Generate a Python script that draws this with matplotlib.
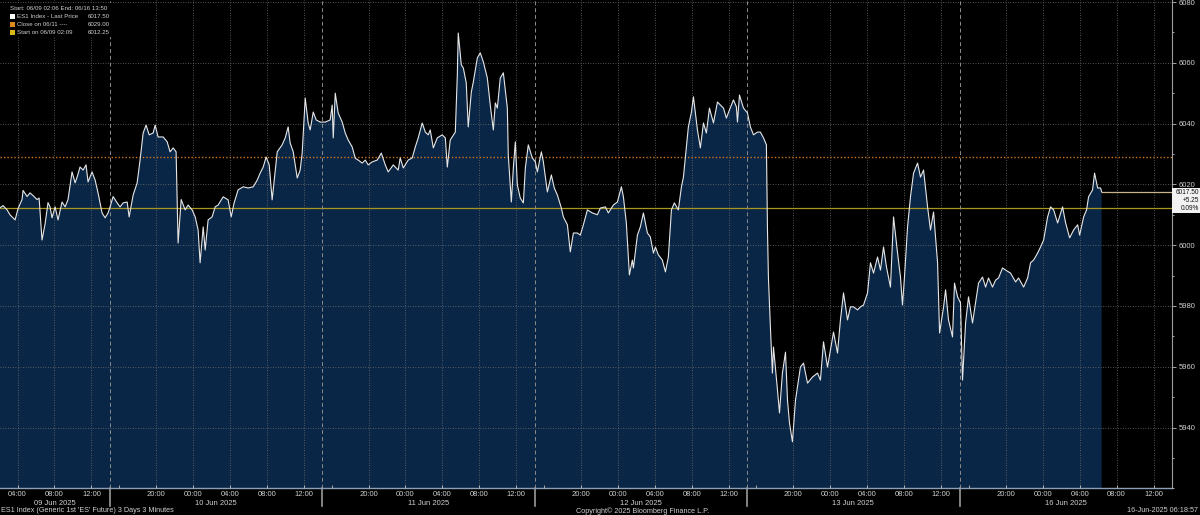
import numpy as np
import matplotlib
matplotlib.use("Agg")
import matplotlib.pyplot as plt
from matplotlib.patches import Rectangle
from matplotlib.ticker import FixedLocator, MultipleLocator

plt.rcParams["font.family"] = ["Liberation Sans Narrow", "Liberation Sans", "DejaVu Sans"]

# trading minutes elapsed since 06/09 02:06 (daily 14:00-15:00 halt and weekend removed)
elapsed_min = [
    # 09 Jun -> 10 Jun
    0, 20, 46, 65, 98, 117, 143, 150, 176, 195, 215, 241, 254, 273, 293, 312, 325, 338, 358, 377,
    403, 423, 442, 468, 488, 501, 520, 540, 559, 572, 598, 618, 637, 663, 683, 702, 715, 735, 761, 780,
    800, 826, 839, 865, 891, 910, 930, 949, 969, 995, 1008, 1027, 1060, 1086, 1105, 1125, 1144, 1157,
    1177, 1203, 1222, 1248,
    # 10 Jun -> 11 Jun
    1268, 1287, 1300, 1320, 1333, 1352, 1378, 1398, 1417, 1450, 1482, 1502, 1521, 1547, 1580, 1612,
    1645, 1671, 1690, 1710, 1729, 1749, 1768, 1801, 1833, 1853, 1872, 1885, 1905, 1931, 1950, 1963,
    1983, 2002, 2015, 2035, 2054, 2080, 2113, 2145, 2158, 2165, 2178, 2197, 2223, 2243, 2262, 2288,
    2308, 2327, 2353, 2373, 2392, 2418, 2451, 2477, 2503, 2522, 2555, 2587,
    # 11 Jun -> 12 Jun
    2600, 2620, 2652, 2678, 2698, 2717, 2743, 2763, 2782, 2795, 2815, 2841, 2873, 2893, 2906, 2925,
    2958, 2971, 2977, 2997, 3010, 3029, 3042, 3062, 3075, 3101, 3120, 3140, 3166, 3185, 3205, 3218,
    3231, 3250, 3270, 3296, 3302, 3322, 3335, 3348, 3361, 3380, 3400, 3413, 3432, 3458, 3478, 3491,
    3517, 3530, 3556, 3582, 3601, 3621, 3647, 3660, 3686, 3705, 3725, 3751, 3770, 3790, 3816, 3848, 3881,
    # 12 Jun -> 13 Jun
    3900, 3933, 3952, 3985, 4011, 4037, 4050, 4069, 4082, 4089, 4108, 4115, 4141, 4160, 4180, 4206,
    4225, 4245, 4258, 4277, 4303, 4323, 4342, 4362, 4381, 4407, 4427, 4440, 4459, 4472, 4492, 4505,
    4531, 4550, 4570, 4589, 4609, 4635, 4661, 4680, 4700, 4719, 4739, 4765, 4784, 4791, 4804, 4830,
    4856, 4875, 4895, 4921, 4940, 4960, 4979, 4986, 4992, 5005, 5018, 5025, 5051, 5064, 5083, 5103,
    5116, 5129, 5148, 5168, 5187,
    # 13 Jun -> 16 Jun
    5200, 5220, 5246, 5278, 5311, 5330, 5350, 5376, 5395, 5415, 5441, 5460, 5480, 5506, 5525, 5545,
    5571, 5590, 5610, 5636, 5655, 5675, 5701, 5720, 5740, 5759, 5785, 5805, 5831, 5850, 5863, 5876,
    5896, 5915, 5935, 5961, 5980, 6000, 6026, 6045, 6065, 6091, 6104, 6130, 6143, 6162, 6188, 6201,
    6221, 6240, 6253, 6273, 6292, 6318, 6338, 6357, 6383, 6403, 6422, 6448, 6468, 6487, 6513, 6533,
    6565, 6598, 6617, 6650, 6676, 6695, 6715, 6741, 6760, 6780, 6806, 6825, 6845, 6871, 6903, 6923,
    6949, 6975, 7001, 7014, 7040, 7059, 7072, 7098, 7111, 7131, 7150, 7157,
]

last_px = [
    # 09 Jun -> 10 Jun
    6012.3, 6013.0, 6011.6, 6010.0, 6008.3, 6012.0, 6015.0, 6018.0, 6016.0, 6017.2, 6016.3, 6015.0,
    6015.5, 6001.7, 6007.0, 6014.0, 6012.6, 6009.0, 6012.6, 6008.3, 6014.2, 6012.6, 6015.0, 6024.1,
    6020.5, 6022.4, 6025.7, 6024.7, 6026.4, 6020.8, 6024.1, 6021.4, 6017.2, 6010.6, 6009.0, 6010.6,
    6012.6, 6016.0, 6013.9, 6012.6, 6013.9, 6014.2, 6009.3, 6016.5, 6020.5, 6028.0, 6036.9, 6039.5,
    6036.3, 6036.9, 6039.5, 6035.6, 6035.6, 6034.0, 6030.7, 6032.0, 6030.7, 6000.7, 6015.0, 6011.6,
    6013.2, 6011.6,
    # 10 Jun -> 11 Jun
    6009.3, 6005.0, 5994.2, 6006.0, 5998.4, 6008.3, 6009.3, 6012.6, 6013.2, 6015.9, 6014.9, 6009.3,
    6013.9, 6018.2, 6019.2, 6018.8, 6019.2, 6021.4, 6023.7, 6025.7, 6029.0, 6026.4, 6014.9, 6030.7,
    6033.0, 6035.3, 6038.9, 6033.6, 6030.7, 6022.1, 6024.7, 6030.3, 6048.4, 6040.2, 6037.9, 6043.8,
    6041.2, 6040.5, 6040.5, 6041.2, 6046.1, 6035.3, 6050.0, 6043.5, 6040.5, 6036.9, 6034.6, 6032.3,
    6028.6, 6028.0, 6027.0, 6028.0, 6026.4, 6027.4, 6028.0, 6030.3, 6026.4, 6024.1, 6026.4, 6024.7,
    # 11 Jun -> 12 Jun
    6028.7, 6025.4, 6028.0, 6028.7, 6032.3, 6035.3, 6040.2, 6037.2, 6036.3, 6037.9, 6032.0, 6035.3,
    6036.3, 6035.3, 6025.7, 6034.6, 6037.2, 6056.0, 6069.8, 6059.3, 6058.3, 6053.4, 6038.9, 6050.4,
    6053.7, 6061.6, 6063.3, 6060.3, 6055.0, 6046.1, 6037.9, 6046.8, 6045.1, 6055.0, 6056.7, 6045.1,
    6029.7, 6014.2, 6025.4, 6034.0, 6019.8, 6015.5, 6013.9, 6025.4, 6033.0, 6028.7, 6027.4, 6024.1,
    6030.7, 6027.4, 6017.5, 6023.1, 6018.8, 6016.5, 6012.2, 6009.3, 6006.7, 5997.8, 6004.0, 6004.0,
    6003.3, 6006.7, 6011.6, 6010.6, 6010.0,
    # 12 Jun -> 13 Jun
    6012.2, 6012.6, 6010.6, 6013.2, 6014.2, 6019.2, 6015.9, 6007.3, 5996.1, 5990.2, 5995.1, 5992.5,
    6003.3, 6006.0, 6010.6, 6004.0, 6002.7, 5997.4, 5999.4, 5996.8, 5995.1, 5991.2, 5996.1, 6011.6,
    6013.9, 6011.6, 6019.2, 6022.4, 6032.3, 6038.9, 6043.8, 6048.8, 6037.9, 6032.0, 6040.2, 6036.9,
    6045.1, 6040.2, 6047.1, 6046.1, 6045.1, 6041.8, 6044.5, 6047.8, 6045.5, 6040.5, 6049.4, 6045.1,
    6043.5, 6038.9, 6036.3, 6037.2, 6037.2, 6035.3, 6033.0, 6005.0, 5989.5, 5973.0, 5957.9, 5966.5,
    5952.3, 5944.8, 5957.9, 5964.8, 5949.0, 5941.5, 5935.3, 5949.0, 5955.6,
    # 13 Jun -> 16 Jun
    5959.9, 5961.2, 5954.6, 5956.6, 5957.9, 5955.6, 5968.2, 5959.9, 5965.5, 5971.4, 5964.5, 5975.4,
    5984.3, 5975.4, 5979.7, 5979.7, 5978.7, 5979.7, 5980.3, 5984.3, 5994.2, 5990.8, 5996.1, 5991.8,
    5999.4, 5992.8, 5986.2, 6009.3, 5997.4, 5989.5, 5980.3, 5989.5, 6006.0, 6015.9, 6023.7, 6027.0,
    6022.4, 6024.7, 6012.6, 6005.0, 6010.9, 5994.2, 5971.1, 5979.7, 5985.3, 5975.4, 5969.8, 5987.5,
    5983.0, 5981.0, 5955.6, 5974.4, 5983.0, 5974.4, 5981.0, 5987.5, 5989.5, 5986.2, 5989.2, 5986.2,
    5988.5, 5989.2, 5992.5, 5991.8, 5990.8, 5987.9, 5989.2, 5986.2, 5989.2, 5994.2, 5995.1, 5997.4,
    5999.4, 6001.7, 6009.3, 6012.6, 6011.6, 6007.3, 6012.6, 6007.3, 6002.4, 6005.0, 6006.7, 6003.3,
    6009.3, 6011.6, 6015.9, 6018.2, 6023.7, 6018.8, 6018.8, 6017.5,
]

session_dates = ["09 Jun 2025", "10 Jun 2025", "11 Jun 2025", "12 Jun 2025", "13 Jun 2025", "16 Jun 2025"]
hour_labels = ["20:00", "00:00", "04:00", "08:00", "12:00"]
hour_offsets = [5, 9, 13, 17, 21]   # hours after the 15:00 session open

session_h = 23          # 15:00 -> 14:00 next day
start_offset_h = 11.1   # 02:06 is 11.1 h into the first session

last_price = 6017.50
close_0611 = 6029.00
start_0609 = 6012.25
net_chg = "+5.25"
pct_chg = "0.09%"

BG = "#000000"
FILL = "#0a2646"
TXT = "#cfcfcf"
W, H = 1200, 515


def fx(px):
    return px / W


def fy(py):
    return 1 - py / H


x = start_offset_h + np.array(elapsed_min) / 60.0
y = np.array(last_px)
n_sess = len(session_dates)
x_end = n_sess * session_h

fig = plt.figure(figsize=(W / 100, H / 100), dpi=100, facecolor=BG)
ax = fig.add_axes([0, fy(488.3), fx(1172), 488.3 / H], facecolor=BG)
ax.set_xlim(start_offset_h, x_end)
ax.set_ylim(5920, 6080.66)

ax.fill_between(x, y, 5900, color=FILL, lw=0, zorder=1)
ax.plot(x, y, color="#e6e6e6", lw=0.8, zorder=4)

# reference levels
ax.axhline(close_0611, color="#d0741e", lw=1.0, ls=(0, (1, 1.5)), zorder=3)
ax.axhline(start_0609, color="#a89620", lw=0.9, zorder=3)
ax.plot([x[-1], x_end], [last_price, last_price], color="#c8b68a", lw=0.9, zorder=4)

# session separators
for k in range(1, n_sess):
    ax.axvline(k * session_h, color="#8c8c8c", lw=0.7, ls=(0, (4, 3)), zorder=3)
    ax.plot([k * session_h] * 2, [0, -0.036], transform=ax.get_xaxis_transform(),
            clip_on=False, color="#9a9a9a", lw=1.2)

# x ticks
major_pos, major_lab = [], []
for k in range(n_sess):
    for off, lab in zip(hour_offsets, hour_labels):
        p = k * session_h + off
        if p > start_offset_h:
            major_pos.append(p)
            major_lab.append(lab)
ax.xaxis.set_major_locator(FixedLocator(major_pos))
ax.set_xticklabels(major_lab)
ax.xaxis.set_minor_locator(FixedLocator([k * session_h + 1 for k in range(1, n_sess)]))
ax.tick_params(axis="x", which="both", direction="in", length=2.5, width=0.6,
               color="#c0c0c0", labelcolor=TXT, labelsize=5.5, pad=2)

for k, d in enumerate(session_dates):
    lo = max(k * session_h, start_offset_h)
    hi = (k + 1) * session_h
    ax.text((lo + hi) / 2, -0.031, d, transform=ax.get_xaxis_transform(),
            ha="center", va="center", fontsize=5.5, color=TXT)

# y ticks on the right
ax.yaxis.tick_right()
ax.yaxis.set_major_locator(FixedLocator(list(range(5940, 6081, 20))))
ax.yaxis.set_minor_locator(MultipleLocator(10))
ax.tick_params(axis="y", which="major", direction="out", length=3, width=0.6,
               color="#bdbdbd", labelcolor=TXT, labelsize=5.5, pad=1.5)
ax.tick_params(axis="y", which="minor", direction="out", length=1.5, width=0.6, color="#bdbdbd")

ax.grid(True, which="major", color="#6e6e6e", ls=(0, (1, 2)), lw=0.6)
ax.set_axisbelow(False)

for s in ("top", "left"):
    ax.spines[s].set_visible(False)
ax.spines["right"].set_color("#9d9d9d")
ax.spines["right"].set_linewidth(0.8)
ax.spines["bottom"].set_color("#8d9fb5")
ax.spines["bottom"].set_linewidth(1.0)

# legend block
fs_leg = 4.4
fig.patches.append(Rectangle((fx(2), fy(37)), fx(112), 34 / H, transform=fig.transFigure,
                             facecolor=BG, edgecolor="none", zorder=5))
fig.text(fx(10), fy(8), "Start: 06/09 02:06 End: 06/16 13:50", fontsize=fs_leg,
         color=TXT, va="center", ha="left", zorder=6)
legend_rows = [
    ("#ffffff", "ES1 Index - Last Price", f"{last_price:.2f}"),
    ("#e08a1e", "Close on 06/11 ----", f"{close_0611:.2f}"),
    ("#d8b818", "Start on 06/09 02:09", f"{start_0609:.2f}"),
]
for i, (c, lab, val) in enumerate(legend_rows):
    yy = 16 + 8 * i
    fig.patches.append(Rectangle((fx(10), fy(yy + 2.5)), fx(5), 5 / H, transform=fig.transFigure,
                                 facecolor=c, edgecolor="none", zorder=6))
    fig.text(fx(17), fy(yy), lab, fontsize=fs_leg, color=TXT, va="center", ha="left", zorder=6)
    fig.text(fx(110), fy(yy), val, fontsize=fs_leg, color=TXT, va="center", ha="right", zorder=6)

# last price tag
fig.patches.append(Rectangle((fx(1172), fy(213)), fx(28), 25 / H, transform=fig.transFigure,
                             facecolor="#f2f2f2", edgecolor="none", zorder=5))
for i, t in enumerate([f"{last_price:.2f}", net_chg, pct_chg]):
    fig.text(fx(1199), fy(192.5 + 8 * i), t, fontsize=4.7, color="#111111",
             va="center", ha="right", zorder=6)

# footer
fs_foot = 5.2
fig.text(fx(1), fy(511), "ES1 Index (Generic 1st 'ES' Future) 3 Days 3 Minutes",
         fontsize=fs_foot, color=TXT, va="center", ha="left")
fig.text(fx(643), fy(511), "Copyright\u00a9 2025 Bloomberg Finance L.P.",
         fontsize=fs_foot, color=TXT, va="center", ha="center")
fig.text(fx(1198), fy(511), "16-Jun-2025 06:18:57",
         fontsize=fs_foot, color=TXT, va="center", ha="right")

fig.savefig("out.png", dpi=100, facecolor=BG)
plt.close(fig)
